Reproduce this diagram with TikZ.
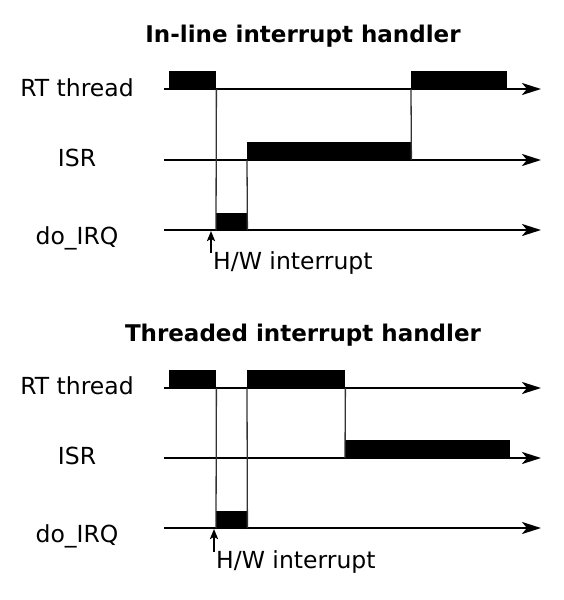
\documentclass[tikz,border=0pt]{standalone}
\usepackage{fontspec}
\setmainfont{DejaVu Sans}
\usetikzlibrary{arrows.meta}

\begin{document}
\begin{tikzpicture}[
    x=1pt, y=-1pt,
    lbl/.style={anchor=base, inner sep=0pt, font=\fontsize{23.5}{28}\selectfont},
    ttl/.style={anchor=base, inner sep=0pt, font=\bfseries\fontsize{23}{27}\selectfont},
    timeline/.style={line width=2.4pt, -{Stealth[length=19pt, width=12pt, inset=5pt]}},
    busy/.style={fill=black, inner sep=0pt, anchor=south west, minimum height=18pt},
    hop/.style={line width=1.3pt, draw=black!80},
    hw/.style={line width=2pt, -{Stealth[length=10pt, width=8pt, inset=2pt]}}
  ]
    \useasboundingbox (0,0) rectangle (564,600);

    % in-line handler
    \node[ttl] (title1) at (303,42) {In-line interrupt handler};
    \node[lbl] (rt1) at (77,96) {RT thread};
    \node[lbl] (isr1) at (77,166) {ISR};
    \node[lbl] (irq1) at (77,244) {do\_IRQ};

    \coordinate (rt1s) at (164,89);  \coordinate (rt1e) at (541,89);
    \coordinate (isr1s) at (164,160); \coordinate (isr1e) at (541,160);
    \coordinate (irq1s) at (164,230); \coordinate (irq1e) at (541,230);
    \draw[timeline] (rt1s) -- (rt1e);
    \draw[timeline] (isr1s) -- (isr1e);
    \draw[timeline] (irq1s) -- (irq1e);

    \node[busy, minimum width=47pt] (rtA) at (169,89) {};
    \node[busy, minimum width=31pt, minimum height=17pt] (irqA) at (216,230) {};
    \node[busy, minimum width=164pt] (isrA) at (247,160) {};
    \node[busy, minimum width=96pt] (rtB) at (411,89) {};

    \draw[hop] (rtA.south east) -- (irqA.south west);
    \draw[hop] (irqA.south east) -- (isrA.south west);
    \draw[hop] (isrA.south east) -- (rtB.south west);

    \coordinate (hw1s) at (211,253); \coordinate (hw1e) at (211,231);
    \draw[hw] (hw1s) -- (hw1e);
    \node[lbl, anchor=base west] (hwtxt1) at (213,269) {H/W interrupt};

    % threaded handler
    \node[ttl] (title2) at (303,341) {Threaded interrupt handler};
    \node[lbl] (rt2) at (77,394) {RT thread};
    \node[lbl] (isr2) at (77,464) {ISR};
    \node[lbl] (irq2) at (77,542) {do\_IRQ};

    \coordinate (rt2s) at (164,388);  \coordinate (rt2e) at (541,388);
    \coordinate (isr2s) at (164,458); \coordinate (isr2e) at (541,458);
    \coordinate (irq2s) at (164,528); \coordinate (irq2e) at (541,528);
    \draw[timeline] (rt2s) -- (rt2e);
    \draw[timeline] (isr2s) -- (isr2e);
    \draw[timeline] (irq2s) -- (irq2e);

    \node[busy, minimum width=47pt] (rtC) at (169,388) {};
    \node[busy, minimum width=31pt, minimum height=17pt] (irqB) at (216,528) {};
    \node[busy, minimum width=98pt] (rtD) at (247,388) {};
    \node[busy, minimum width=165pt] (isrB) at (345,458) {};

    \draw[hop] (rtC.south east) -- (irqB.south west);
    \draw[hop] (irqB.south east) -- (rtD.south west);
    \draw[hop] (rtD.south east) -- (isrB.south west);

    \coordinate (hw2s) at (214,552); \coordinate (hw2e) at (214,529);
    \draw[hw] (hw2s) -- (hw2e);
    \node[lbl, anchor=base west] (hwtxt2) at (216,568) {H/W interrupt};
\end{tikzpicture}
\end{document}
